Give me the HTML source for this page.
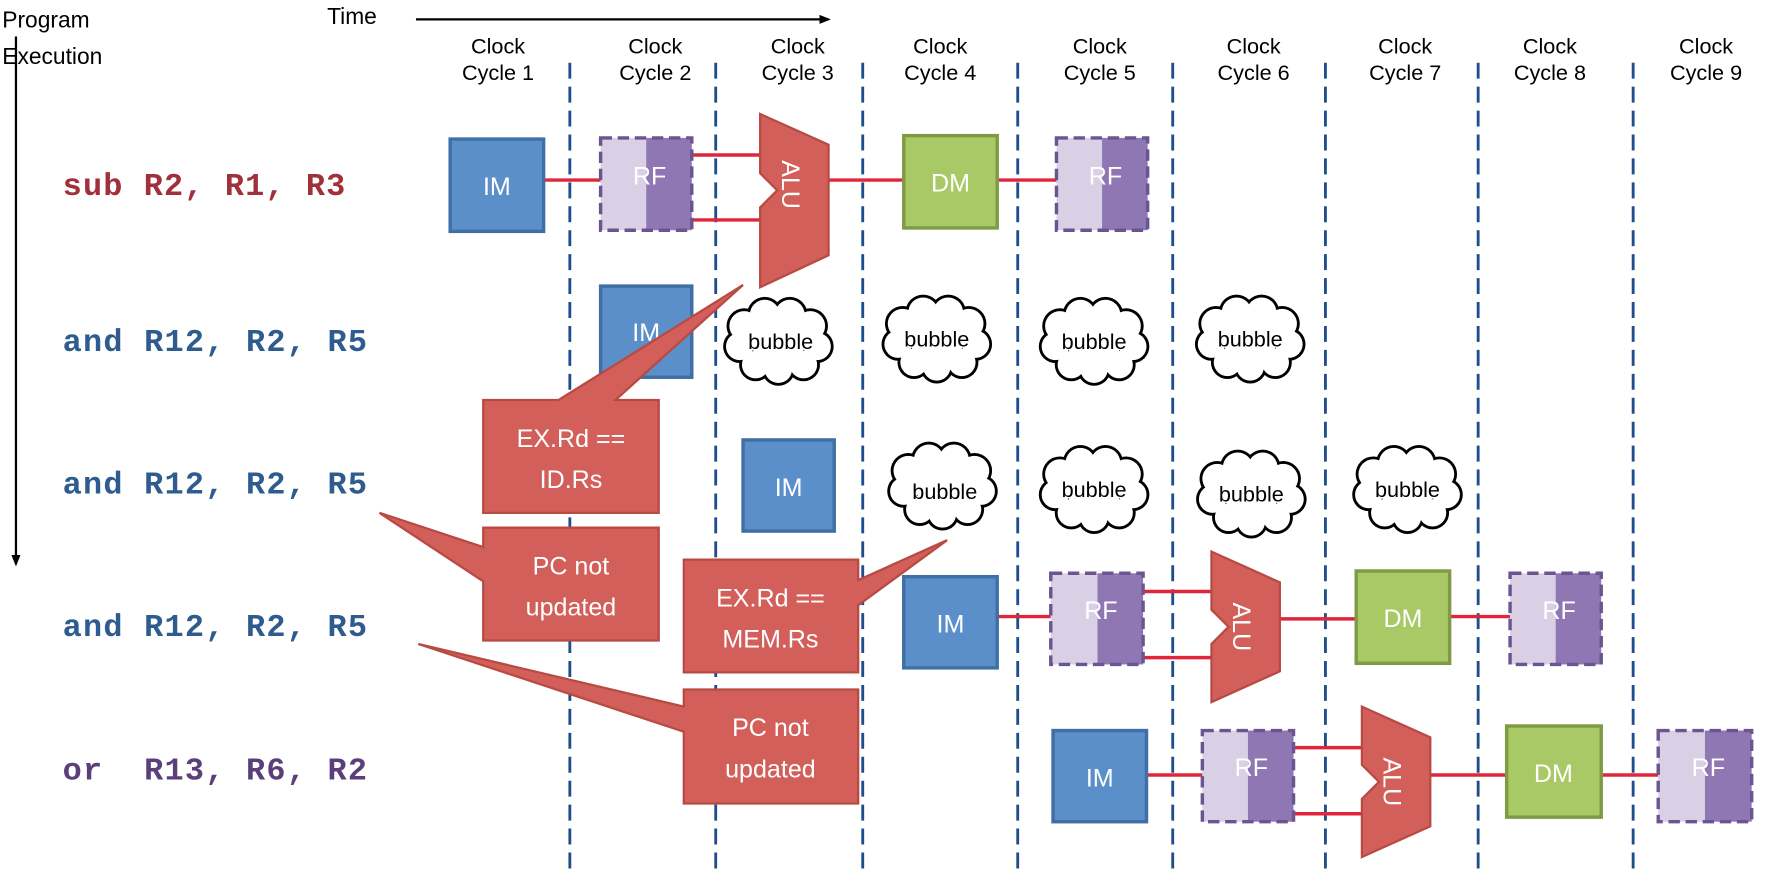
<!DOCTYPE html>
<html><head><meta charset="utf-8"><style>
html,body{margin:0;padding:0;background:#fff;}
svg{display:block;}
text{font-family:"Liberation Sans",sans-serif;}
.mono{font-family:"Liberation Mono",monospace;font-weight:bold;font-size:28px;}
.w{fill:#fff;font-size:22px;text-anchor:middle;}
.ck{font-size:19px;text-anchor:middle;fill:#000;}
</style></head><body>
<svg width="1787" height="881" viewBox="0 0 1568 773" xmlns="http://www.w3.org/2000/svg">
<defs>
<g id="cl">
<g fill="#000">
<circle cx="-30" cy="-12" r="15.5"/><circle cx="-12" cy="-22" r="15.5"/><circle cx="10" cy="-22" r="15.5"/><circle cx="28" cy="-12" r="15.5"/><circle cx="34" cy="6" r="14.5"/><circle cx="22" cy="22" r="14.5"/><circle cx="0" cy="26" r="14.5"/><circle cx="-20" cy="22" r="14.5"/><circle cx="-34" cy="6" r="14.5"/><circle cx="0" cy="0" r="26"/>
</g>
<g fill="#fff">
<circle cx="-30" cy="-12" r="13"/><circle cx="-12" cy="-22" r="13"/><circle cx="10" cy="-22" r="13"/><circle cx="28" cy="-12" r="13"/><circle cx="34" cy="6" r="12"/><circle cx="22" cy="22" r="12"/><circle cx="0" cy="26" r="12"/><circle cx="-20" cy="22" r="12"/><circle cx="-34" cy="6" r="12"/><circle cx="0" cy="0" r="24"/>
</g>
</g>
<marker id="ah" markerWidth="10" markerHeight="10" refX="8" refY="5" orient="auto" markerUnits="userSpaceOnUse"><path d="M0,1 L10,5 L0,9 z" fill="#000"/></marker>
</defs>

<text x="2" y="24" font-size="20">Program</text>
<text x="2" y="56" font-size="20">Execution</text>
<line x1="14" y1="32" x2="14" y2="495" stroke="#000" stroke-width="2" marker-end="url(#ah)"/>
<text x="287" y="21" font-size="20">Time</text>
<line x1="365" y1="17" x2="727" y2="17" stroke="#000" stroke-width="2" marker-end="url(#ah)"/>

<g class="ck">
<text x="437" y="47">Clock</text><text x="437" y="70">Cycle 1</text>
<text x="575" y="47">Clock</text><text x="575" y="70">Cycle 2</text>
<text x="700" y="47">Clock</text><text x="700" y="70">Cycle 3</text>
<text x="825" y="47">Clock</text><text x="825" y="70">Cycle 4</text>
<text x="965" y="47">Clock</text><text x="965" y="70">Cycle 5</text>
<text x="1100" y="47">Clock</text><text x="1100" y="70">Cycle 6</text>
<text x="1233" y="47">Clock</text><text x="1233" y="70">Cycle 7</text>
<text x="1360" y="47">Clock</text><text x="1360" y="70">Cycle 8</text>
<text x="1497" y="47">Clock</text><text x="1497" y="70">Cycle 9</text>
</g>

<g stroke="#1f4e8c" stroke-width="2.5" stroke-dasharray="14,7">
<line x1="500" y1="55" x2="500" y2="765"/><line x1="628" y1="55" x2="628" y2="765"/>
<line x1="757" y1="55" x2="757" y2="765"/><line x1="893" y1="55" x2="893" y2="765"/>
<line x1="1029" y1="55" x2="1029" y2="765"/><line x1="1163" y1="55" x2="1163" y2="765"/>
<line x1="1297" y1="55" x2="1297" y2="765"/><line x1="1433" y1="55" x2="1433" y2="765"/>
</g>

<text class="mono" x="55" y="171" fill="#a0303a" textLength="248" lengthAdjust="spacing">sub R2, R1, R3</text>
<text class="mono" x="55" y="308" fill="#2e5c8e" textLength="267" lengthAdjust="spacing">and R12, R2, R5</text>
<text class="mono" x="55" y="433" fill="#2e5c8e" textLength="267" lengthAdjust="spacing">and R12, R2, R5</text>
<text class="mono" x="55" y="558" fill="#2e5c8e" textLength="267" lengthAdjust="spacing">and R12, R2, R5</text>
<text class="mono" x="55" y="684" fill="#5b3f7a" textLength="267" lengthAdjust="spacing">or&#160; R13, R6, R2</text>

<g stroke="#e0263c" stroke-width="3">
<line x1="477" y1="158" x2="527" y2="158"/><line x1="607" y1="136" x2="667" y2="136"/><line x1="607" y1="193" x2="667" y2="193"/>
<line x1="727" y1="158" x2="793" y2="158"/><line x1="875" y1="158" x2="927" y2="158"/>
<line x1="875" y1="541" x2="922" y2="541"/><line x1="1003" y1="519" x2="1063" y2="519"/><line x1="1003" y1="577" x2="1063" y2="577"/>
<line x1="1123" y1="543" x2="1190" y2="543"/><line x1="1272" y1="541" x2="1325" y2="541"/>
<line x1="1006" y1="680" x2="1055" y2="680"/><line x1="1135" y1="656" x2="1195" y2="656"/><line x1="1135" y1="714" x2="1195" y2="714"/>
<line x1="1255" y1="680" x2="1322" y2="680"/><line x1="1405" y1="680" x2="1455" y2="680"/>
</g>

<g fill="#5b8fc9" stroke="#3f6fa5" stroke-width="3">
<rect x="395" y="122" width="82" height="81"/>
<rect x="527" y="251" width="80" height="80"/>
<rect x="652" y="386" width="80" height="80"/>
<rect x="793" y="506" width="82" height="80"/>
<rect x="924" y="641" width="82" height="80"/>
</g>
<g class="w">
<text x="436" y="171">IM</text><text x="567" y="299">IM</text><text x="692" y="435">IM</text><text x="834" y="555">IM</text><text x="965" y="690">IM</text>
</g>

<g fill="#a9c866" stroke="#7f9a45" stroke-width="3">
<rect x="793" y="119" width="82" height="81"/>
<rect x="1190" y="501" width="82" height="81"/>
<rect x="1322" y="637" width="83" height="80"/>
</g>
<g class="w"><text x="834" y="168">DM</text><text x="1231" y="550">DM</text><text x="1363" y="686">DM</text></g>

<g>
<g transform="translate(527,121)"><rect x="0" y="0" width="40" height="81" fill="#d9d0e6"/><rect x="40" y="0" width="40" height="81" fill="#8f77b4"/><rect x="0" y="0" width="80" height="81" fill="none" stroke="#6a5590" stroke-width="3" stroke-dasharray="10,5"/><text class="w" x="43" y="41">RF</text></g>
<g transform="translate(927,121)"><rect x="0" y="0" width="40" height="81" fill="#d9d0e6"/><rect x="40" y="0" width="40" height="81" fill="#8f77b4"/><rect x="0" y="0" width="80" height="81" fill="none" stroke="#6a5590" stroke-width="3" stroke-dasharray="10,5"/><text class="w" x="43" y="41">RF</text></g>
<g transform="translate(922,503)"><rect x="0" y="0" width="41" height="80" fill="#d9d0e6"/><rect x="41" y="0" width="40" height="80" fill="#8f77b4"/><rect x="0" y="0" width="81" height="80" fill="none" stroke="#6a5590" stroke-width="3" stroke-dasharray="10,5"/><text class="w" x="44" y="40">RF</text></g>
<g transform="translate(1325,503)"><rect x="0" y="0" width="40" height="80" fill="#d9d0e6"/><rect x="40" y="0" width="40" height="80" fill="#8f77b4"/><rect x="0" y="0" width="80" height="80" fill="none" stroke="#6a5590" stroke-width="3" stroke-dasharray="10,5"/><text class="w" x="43" y="40">RF</text></g>
<g transform="translate(1055,641)"><rect x="0" y="0" width="40" height="80" fill="#d9d0e6"/><rect x="40" y="0" width="40" height="80" fill="#8f77b4"/><rect x="0" y="0" width="80" height="80" fill="none" stroke="#6a5590" stroke-width="3" stroke-dasharray="10,5"/><text class="w" x="43" y="40">RF</text></g>
<g transform="translate(1455,641)"><rect x="0" y="0" width="41" height="80" fill="#d9d0e6"/><rect x="41" y="0" width="41" height="80" fill="#8f77b4"/><rect x="0" y="0" width="82" height="80" fill="none" stroke="#6a5590" stroke-width="3" stroke-dasharray="10,5"/><text class="w" x="44" y="40">RF</text></g>
</g>

<g fill="#d35f5a" stroke="#b84a44" stroke-width="2">
<path d="M667,100 L727,127 L727,224 L667,252 L667,182 L682,167 L667,152 Z"/>
<path d="M1063,484 L1123,511 L1123,589 L1063,616 L1063,565 L1078,550 L1063,535 Z"/>
<path d="M1195,620 L1255,647 L1255,725 L1195,752 L1195,701 L1210,686 L1195,671 Z"/>
</g>
<g class="w" font-size="20">
<text transform="translate(693,162) rotate(90)" y="7">ALU</text>
<text transform="translate(1089,550) rotate(90)" y="7">ALU</text>
<text transform="translate(1221,686) rotate(90)" y="7">ALU</text>
</g>

<use href="#cl" x="683" y="298"/><use href="#cl" x="822" y="296"/><use href="#cl" x="960" y="298"/><use href="#cl" x="1097" y="296"/>
<use href="#cl" x="827" y="425"/><use href="#cl" x="960" y="428"/><use href="#cl" x="1098" y="432"/><use href="#cl" x="1235" y="428"/>
<g font-size="19" text-anchor="middle" fill="#000">
<text x="685" y="306">bubble</text><text x="822" y="304">bubble</text><text x="960" y="306">bubble</text><text x="1097" y="304">bubble</text>
<text x="829" y="438">bubble</text><text x="960" y="436">bubble</text><text x="1098" y="440">bubble</text><text x="1235" y="436">bubble</text>
</g>

<g fill="#d35f5a" stroke="#b84a44" stroke-width="2">
<path d="M424,351 L490,351 L652,250 L540,351 L578,351 L578,450 L424,450 Z"/>
<path d="M424,463 L578,463 L578,562 L424,562 L424,510 L333,450 L424,480 Z"/>
<path d="M600,491 L753,491 L753,509 L831,474 L753,531 L753,590 L600,590 Z"/>
<path d="M600,605 L753,605 L753,705 L600,705 L600,642 L367,565 L600,620 Z"/>
</g>
<g class="w">
<text x="501" y="392">EX.Rd ==</text><text x="501" y="428">ID.Rs</text>
<text x="501" y="504">PC not</text><text x="501" y="540">updated</text>
<text x="676" y="532">EX.Rd ==</text><text x="676" y="568">MEM.Rs</text>
<text x="676" y="646">PC not</text><text x="676" y="682">updated</text>
</g>
</svg>
</body></html>
